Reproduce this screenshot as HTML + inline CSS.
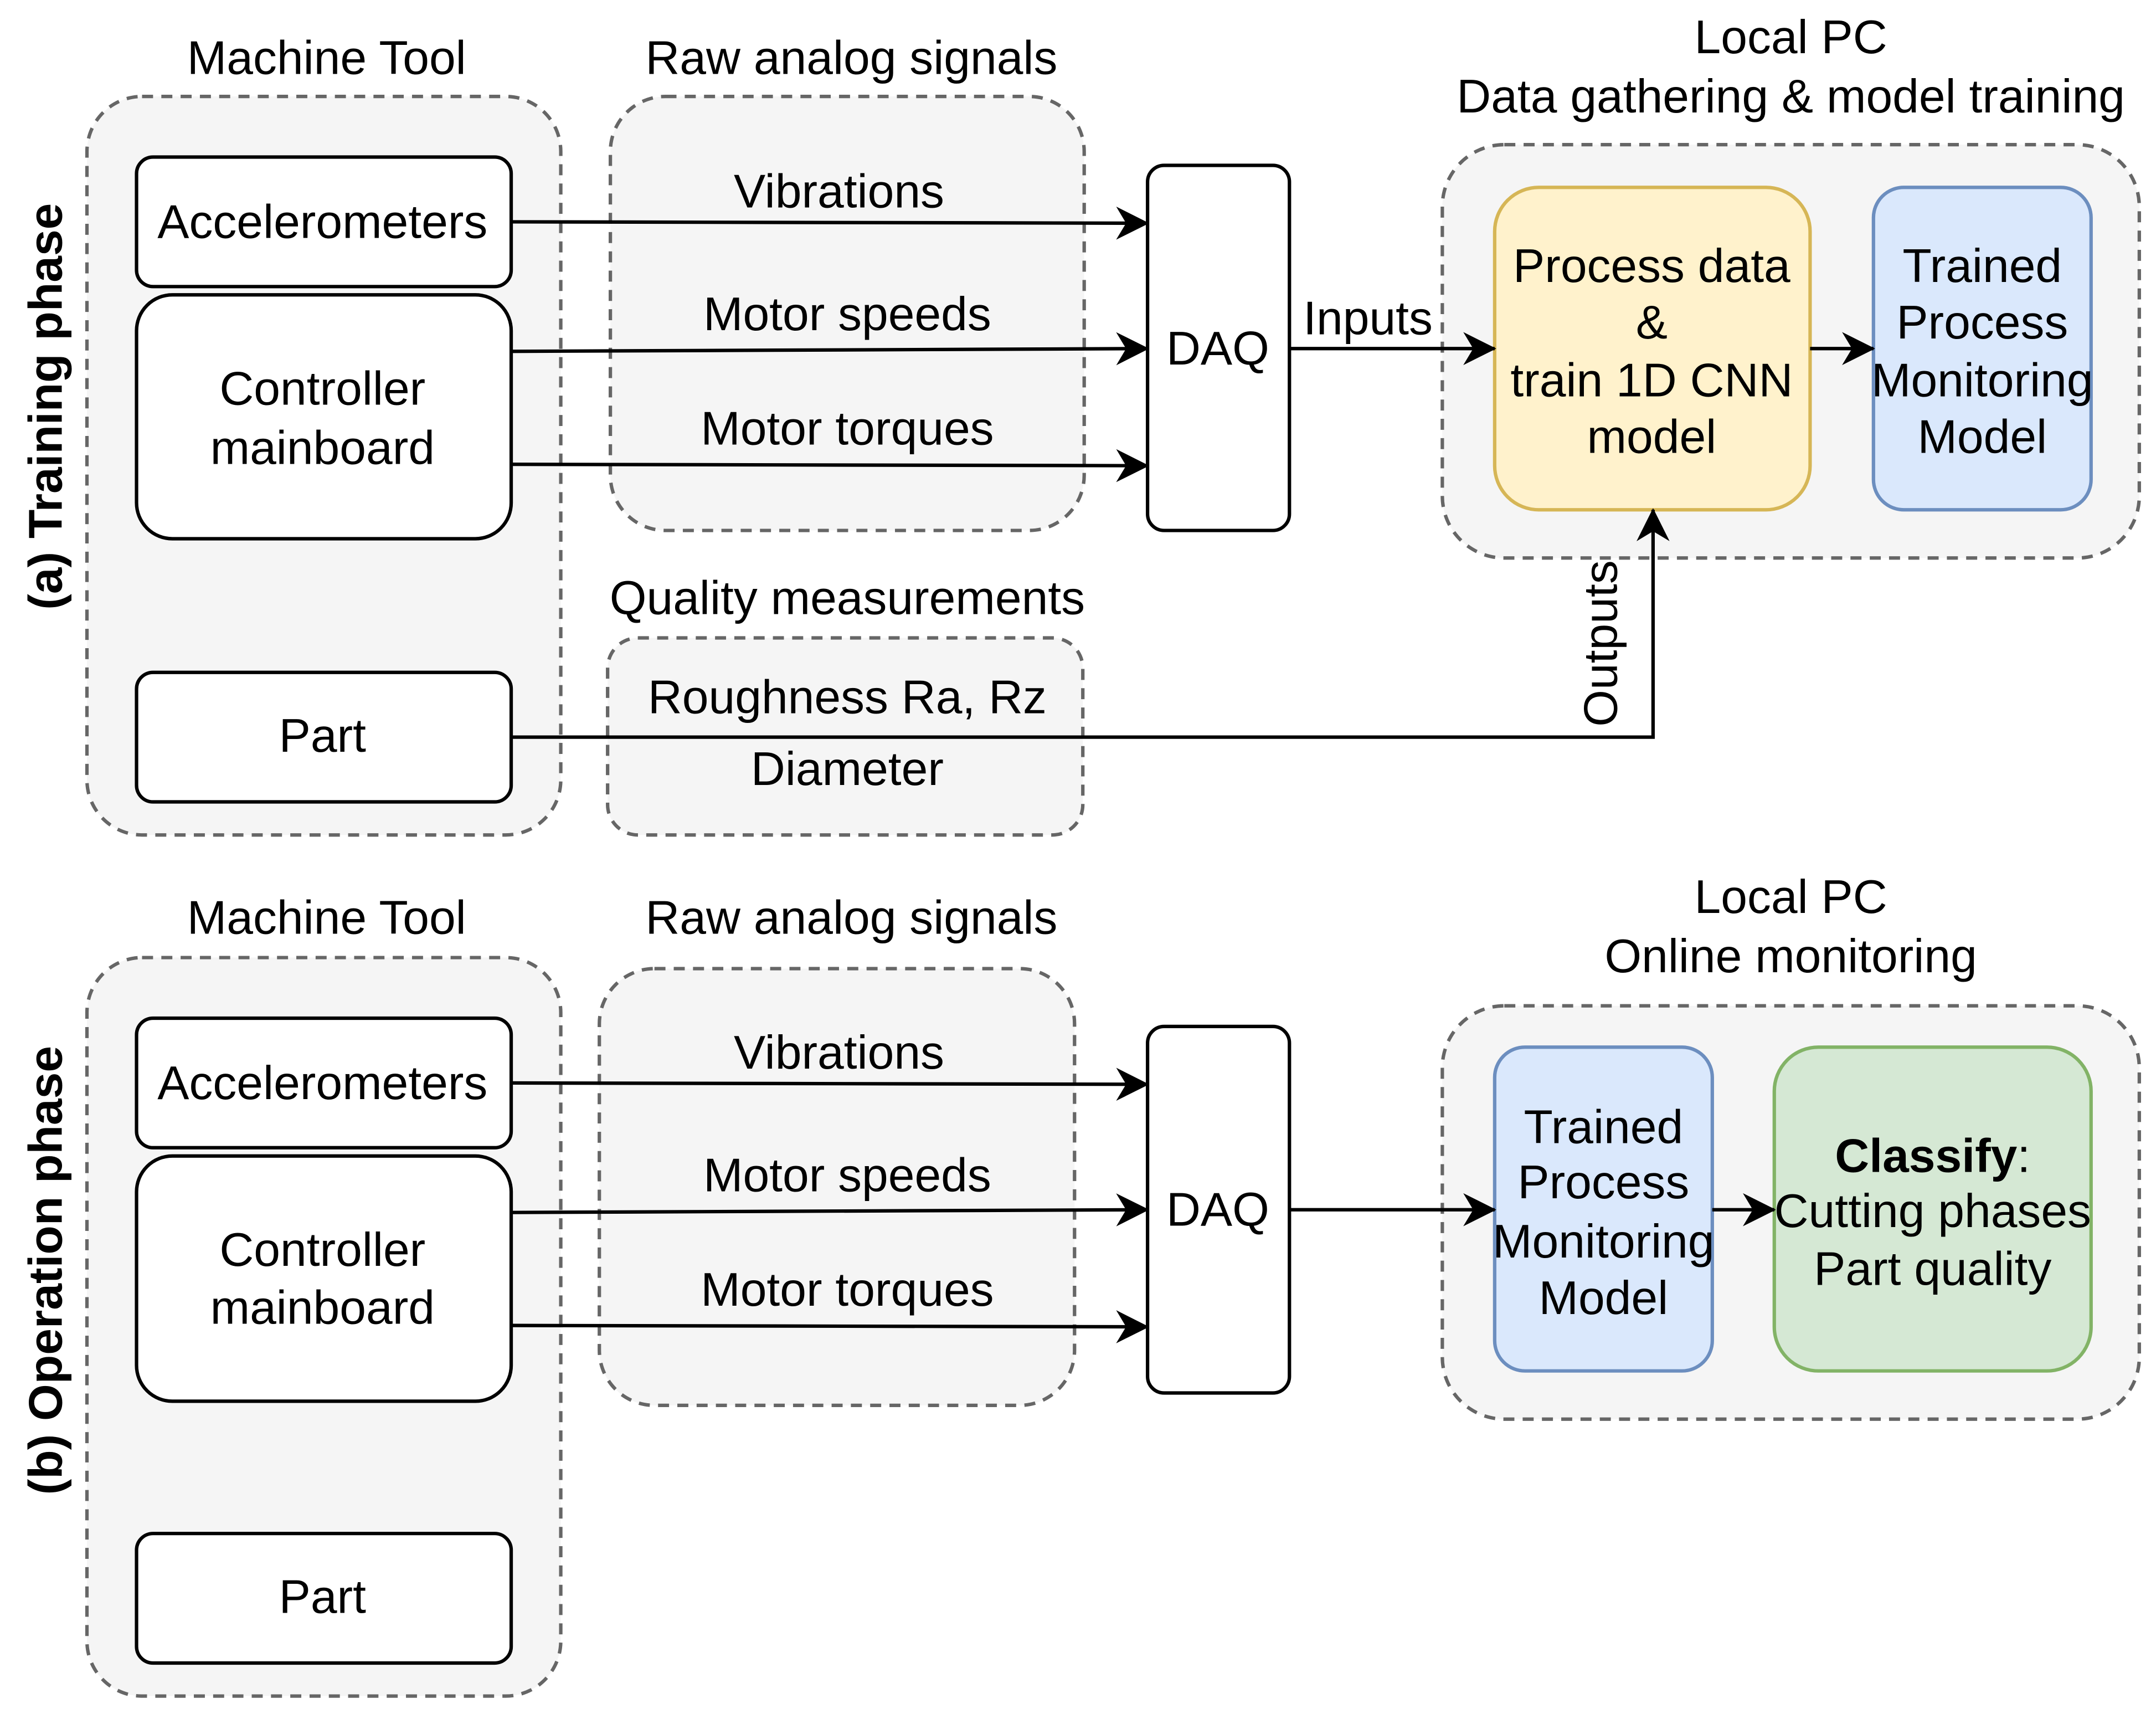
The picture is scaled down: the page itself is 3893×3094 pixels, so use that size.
<!DOCTYPE html>
<html><head><meta charset="utf-8"><style>
html,body{margin:0;padding:0;background:#fff;}
svg{display:block;}
text{font-family:"Liberation Sans",Arial,sans-serif;font-size:34.5px;fill:#000;}
</style></head><body>
<svg width="3893" height="3094" viewBox="0 0 1565 1244" xmlns="http://www.w3.org/2000/svg">
<defs>
<marker id="ar" viewBox="0 0 20 20" refX="19" refY="10" markerWidth="24" markerHeight="24" orient="auto" markerUnits="userSpaceOnUse">
<path d="M0,0 L20,10 L0,20 L6,10 Z" fill="#000"/>
</marker>
</defs>
<rect width="1565" height="1244" fill="#fff"/>
<g stroke="#666" stroke-width="2.5" stroke-dasharray="8,6" fill="#f5f5f5">
<rect x="63" y="70" width="344" height="536" rx="40"/>
<rect x="443" y="70" width="344" height="315" rx="40"/>
<rect x="441" y="463" width="345" height="143" rx="22"/>
<rect x="1047" y="105" width="506" height="300" rx="45"/>
<rect x="63" y="695" width="344" height="536" rx="40"/>
<rect x="435" y="703" width="345" height="317" rx="40"/>
<rect x="1047" y="730" width="506" height="300" rx="45"/>
</g>
<g stroke="#000" stroke-width="2.5" fill="#fff">
<rect x="99" y="114" width="272" height="94" rx="12"/>
<rect x="99" y="214" width="272" height="177" rx="26"/>
<rect x="99" y="488" width="272" height="94" rx="12"/>
<rect x="833" y="120" width="103" height="265" rx="12"/>
<rect x="99" y="739" width="272" height="94" rx="12"/>
<rect x="99" y="839" width="272" height="178" rx="26"/>
<rect x="99" y="1113" width="272" height="94" rx="12"/>
<rect x="833" y="745" width="103" height="266" rx="12"/>
</g>
<rect x="1085" y="136" width="229" height="234" rx="32" fill="#fff2cc" stroke="#d6b656" stroke-width="2.5"/>
<rect x="1360" y="136" width="158" height="234" rx="22" fill="#dae8fc" stroke="#6c8ebf" stroke-width="2.5"/>
<rect x="1085" y="760" width="158" height="235" rx="22" fill="#dae8fc" stroke="#6c8ebf" stroke-width="2.5"/>
<rect x="1288" y="760" width="230" height="235" rx="32" fill="#d5e8d4" stroke="#82b366" stroke-width="2.5"/>
<g stroke="#000" stroke-width="2.5" fill="none" marker-end="url(#ar)">
<path d="M371,161 L833,162"/>
<path d="M371,255 L833,253"/>
<path d="M371,337 L833,338"/>
<path d="M936,253 L1085,253"/>
<path d="M1314,253 L1360,253"/>
<path d="M371,535 L1200,535 L1200,370"/>
<path d="M371,786 L833,787"/>
<path d="M371,880 L833,878"/>
<path d="M371,962 L833,963"/>
<path d="M936,878 L1085,878"/>
<path d="M1243,878 L1288,878"/>
</g>
<g text-anchor="middle" dominant-baseline="central">
<text x="237" y="42">Machine Tool</text>
<text x="618" y="42">Raw analog signals</text>
<text x="234" y="161">Accelerometers</text>
<text x="234" y="282">Controller</text>
<text x="234" y="325">mainboard</text>
<text x="234" y="534">Part</text>
<text x="609" y="139">Vibrations</text>
<text x="615" y="228">Motor speeds</text>
<text x="615" y="311">Motor torques</text>
<text x="884" y="253">DAQ</text>
<text x="993" y="231">Inputs</text>
<text x="1300" y="27">Local PC</text>
<text x="1300" y="70">Data gathering &amp; model training</text>
<text x="1199" y="193">Process data</text>
<text x="1199" y="234">&amp;</text>
<text x="1199" y="276">train 1D CNN</text>
<text x="1199" y="317">model</text>
<text x="1439" y="193">Trained</text>
<text x="1439" y="234">Process</text>
<text x="1439" y="276">Monitoring</text>
<text x="1439" y="317">Model</text>
<text x="615" y="434">Quality measurements</text>
<text x="615" y="506">Roughness Ra, Rz</text>
<text x="615" y="558">Diameter</text>
<text x="1162" y="467" transform="rotate(-90 1162 467)">Outputs</text>
<text x="33" y="295" font-weight="bold" transform="rotate(-90 33 295)">(a) Training phase</text>

<text x="237" y="666">Machine Tool</text>
<text x="618" y="666">Raw analog signals</text>
<text x="234" y="786">Accelerometers</text>
<text x="234" y="907">Controller</text>
<text x="234" y="949">mainboard</text>
<text x="234" y="1159">Part</text>
<text x="609" y="764">Vibrations</text>
<text x="615" y="853">Motor speeds</text>
<text x="615" y="936">Motor torques</text>
<text x="884" y="878">DAQ</text>
<text x="1300" y="651">Local PC</text>
<text x="1300" y="694">Online monitoring</text>
<text x="1164" y="818">Trained</text>
<text x="1164" y="858">Process</text>
<text x="1164" y="901">Monitoring</text>
<text x="1164" y="942">Model</text>
<text x="1403" y="839"><tspan font-weight="bold">Classify</tspan>:</text>
<text x="1403" y="879">Cutting phases</text>
<text x="1403" y="921">Part quality</text>
<text x="33" y="922" font-weight="bold" transform="rotate(-90 33 922)">(b) Operation phase</text>
</g>
</svg>
</body></html>
